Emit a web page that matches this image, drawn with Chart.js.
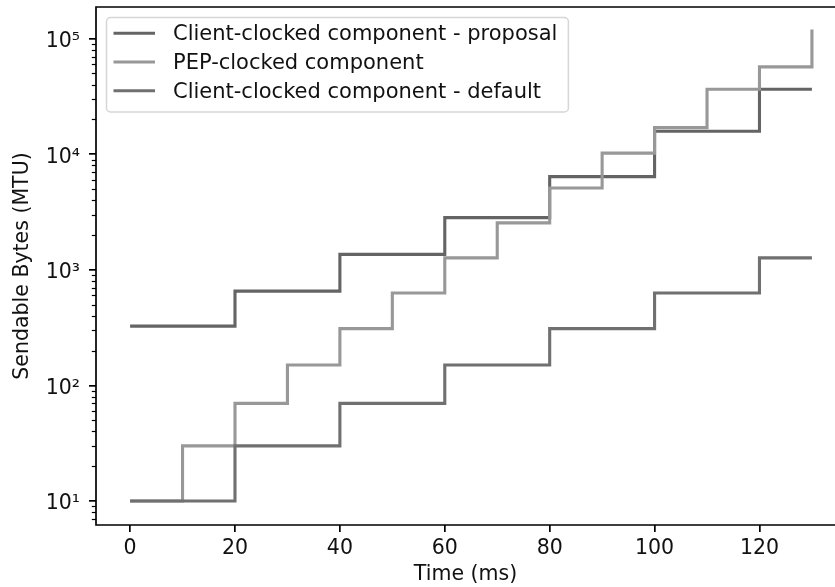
<!DOCTYPE html>
<html>
<head>
<meta charset="utf-8">
<script src="https://cdn.jsdelivr.net/npm/chart.js@4/dist/chart.umd.min.js"></script>
<style>
  html, body { margin: 0; padding: 0; background: #fff; }
  canvas { display: block; }
</style>
</head>
<body>
<canvas id="chart" width="835" height="587"></canvas>
<script>
// Data (step plot, log y axis)
const seriesNames = ['Client-clocked component - proposal', 'PEP-clocked component', 'Client-clocked component - default'];
const clientTimes = [0, 20, 40, 60, 80, 100, 120, 130];
const pepTimes = [0, 10, 20, 30, 40, 50, 60, 70, 80, 90, 100, 110, 120, 130];
const proposalBytes = [326, 655, 1360, 2830, 6400, 15800, 36500, 36500];
const pepBytes = [10, 30, 70, 150, 310, 630, 1270, 2550, 5110, 10230, 17000, 36500, 57000, 120000];
const defaultBytes = [10, 30, 70, 150, 310, 630, 1270, 1270];
const xTicks = [0, 20, 40, 60, 80, 100, 120];
const yTicks = [10, 100, 1000, 10000, 100000];
const seriesColors = ['#646464', '#989898', '#707070'];

const FONT = 'DejaVu Sans';
const FS = 20.5;
const sup = { 1: '\u00b9', 2: '\u00b2', 3: '\u00b3', 4: '\u2074', 5: '\u2075' };

function toPoints(xs, ys) {
    return xs.map((x, i) => ({ x: x, y: ys[i] }));
}

// axes frame, minor log ticks and a matplotlib-like legend
const axesExtras = {
    id: 'axesExtras',
    afterDatasetsDraw(chart) {
        const { ctx, chartArea: a, scales } = chart;
        const y = scales.y;
        ctx.save();
        // minor ticks on the log axis
        ctx.strokeStyle = '#000';
        ctx.lineWidth = 1.2;
        for (let n = 0; n <= 5; n++) {
            for (let m = 2; m <= 9; m++) {
                const v = m * Math.pow(10, n);
                if (v < y.min || v > y.max) continue;
                const py = Math.round(y.getPixelForValue(v)) + 0.5;
                ctx.beginPath();
                ctx.moveTo(a.left, py);
                ctx.lineTo(a.left - 4.2, py);
                ctx.stroke();
            }
        }
        // spines (the right one falls outside the picture)
        ctx.lineWidth = 1.7;
        ctx.beginPath();
        ctx.moveTo(a.right + 2, a.top);
        ctx.lineTo(a.left, a.top);
        ctx.lineTo(a.left, a.bottom);
        ctx.lineTo(a.right + 2, a.bottom);
        ctx.stroke();
        ctx.restore();
    },
    afterDraw(chart) {
        const { ctx, chartArea: a } = chart;
        const sets = chart.data.datasets;
        const fs = 21;
        ctx.save();
        ctx.font = fs + 'px "' + FONT + '"';
        let maxW = 0;
        sets.forEach(ds => { maxW = Math.max(maxW, ctx.measureText(ds.label).width); });
        const bx = a.left + 10.5, by = a.top + 10.5;
        const textX = bx + 66.5;
        const bw = textX - bx + maxW + 11, bh = 94.5;
        ctx.beginPath();
        ctx.roundRect(bx, by, bw, bh, 4);
        ctx.fillStyle = 'rgba(255,255,255,0.8)';
        ctx.fill();
        ctx.strokeStyle = 'rgba(204,204,204,0.8)';
        ctx.lineWidth = 1.5;
        ctx.stroke();
        sets.forEach((ds, i) => {
            const ry = by + 15.8 + i * 28.7;
            ctx.strokeStyle = ds.borderColor;
            ctx.lineWidth = 3.1;
            ctx.beginPath();
            ctx.moveTo(bx + 7, ry);
            ctx.lineTo(bx + 48.5, ry);
            ctx.stroke();
            ctx.fillStyle = '#111';
            ctx.textBaseline = 'alphabetic';
            ctx.fillText(ds.label, textX, ry + 7);
        });
        ctx.restore();
    }
};

const ctx = document.getElementById('chart').getContext('2d');
const chart = new Chart(ctx, {
    type: 'line',
    data: {
        datasets: [
            { label: seriesNames[0], data: toPoints(clientTimes, proposalBytes), borderColor: seriesColors[0], order: 3 },
            { label: seriesNames[1], data: toPoints(pepTimes, pepBytes), borderColor: seriesColors[1], order: 2 },
            { label: seriesNames[2], data: toPoints(clientTimes, defaultBytes), borderColor: seriesColors[2], order: 1 }
        ].map(ds => Object.assign(ds, {
            stepped: 'before',
            borderWidth: 3.1,
            pointRadius: 0,
            fill: false,
            tension: 0
        }))
    },
    options: {
        responsive: false,
        animation: false,
        devicePixelRatio: 1,
        layout: { padding: { left: 0, top: 7, right: 0, bottom: 0 } },
        plugins: {
            legend: { display: false },
            tooltip: { enabled: false }
        },
        scales: {
            x: {
                type: 'linear',
                min: -6.5,
                max: 134.4,
                afterBuildTicks: s => { s.ticks = xTicks.map(v => ({ value: v })); },
                afterFit: s => { s.height = 62; s.paddingLeft = 0; s.paddingRight = 0; },
                grid: { display: true, drawOnChartArea: false, drawTicks: true, tickLength: 7, lineWidth: 1.7, color: '#000' },
                border: { display: false },
                ticks: {
                    padding: 4,
                    color: '#111',
                    font: { family: FONT, size: FS },
                    callback: v => String(v)
                },
                title: {
                    display: true,
                    text: 'Time (ms)',
                    color: '#111',
                    font: { family: FONT, size: FS },
                    padding: { top: 0, bottom: 0 }
                }
            },
            y: {
                type: 'logarithmic',
                min: 6.2,
                max: 188000,
                afterBuildTicks: s => { s.ticks = yTicks.map(v => ({ value: v, major: true })); },
                afterFit: s => { s.width = 96; s.paddingTop = 0; s.paddingBottom = 0; },
                grid: { display: true, drawOnChartArea: false, drawTicks: true, tickLength: 7, lineWidth: 1.7, color: '#000' },
                border: { display: false },
                ticks: {
                    padding: 9,
                    labelOffset: 3,
                    color: '#111',
                    font: { family: FONT, size: FS },
                    callback: v => '10' + sup[Math.round(Math.log10(v))]
                },
                title: {
                    display: true,
                    text: 'Sendable Bytes (MTU)',
                    color: '#111',
                    font: { family: FONT, size: FS },
                    padding: { top: 10, bottom: 0 }
                }
            }
        }
    },
    plugins: [axesExtras]
});
</script>
</body>
</html>
